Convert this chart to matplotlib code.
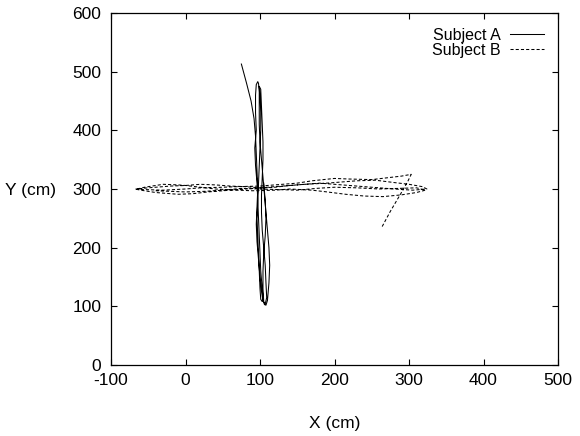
import matplotlib
matplotlib.use("Agg")
import matplotlib.pyplot as plt

plt.rcParams['font.family'] = ['Liberation Sans', 'DejaVu Sans']
plt.rcParams['axes.unicode_minus'] = False

# Subject A (solid): vertical walk around x ~ 100
subject_a_x = [75, 82, 88, 92, 94, 95, 96, 97, 96, 95, 96, 98, 100, 102, 104, 106, 108,
               110, 112, 113, 112, 110, 108, 106, 104, 102, 100, 99, 99, 99, 98, 97, 95,
               94, 94, 95, 93, 94, 96, 97, 98, 99, 100, 101, 103, 104, 103,
               101, 100, 99, 98, 97, 96, 97, 98, 99, 100, 101, 101, 100, 99,
               101, 102, 103, 104, 104, 103, 102, 102, 103, 105, 107, 108, 109, 107,
               105, 104, 104, 105, 107, 108, 107, 105]
subject_a_y = [513, 480, 450, 420, 390, 360, 330, 300, 270, 240, 210, 180, 150, 125, 110, 103, 102,
               110, 140, 170, 200, 230, 260, 290, 320, 350, 380, 410, 440, 465, 480, 483, 478,
               460, 430, 400, 370, 340, 310, 280, 250, 220, 190, 160, 130, 115, 108,
               112, 130, 160, 190, 220, 250, 280, 310, 340, 370, 400, 430, 460, 475,
               470, 440, 410, 380, 350, 320, 290, 260, 230, 200, 170, 140, 115, 104,
               108, 130, 160, 190, 220, 250, 280, 310]

# Subject B (dashed): horizontal walk around y ~ 300
subject_b_x = [264, 275, 288, 298, 303, 290, 270, 250, 220, 200, 170, 150, 120, 100, 70, 50, 20, 0, -30, -55, -68,
               -60, -40, -10, 10, 30, 60, 80, 110, 130, 160, 180, 210, 230, 260, 280, 305, 324,
               318, 300, 280, 255, 230, 210, 190, 160, 140, 120, 100, 80, 60, 40, 20, 0, -20, -40, -50, -65,
               -55, -40, -30, -10, 0, 20, 40, 70, 90, 120, 140, 170, 190, 215, 240, 265, 290, 310, 322,
               310, 285, 260, 230, 200, 175, 150, 125, 100, 75, 50, 25, 0, -20, -40]
subject_b_y = [236, 262, 290, 312, 325, 322, 319, 316, 317, 318, 314, 310, 307, 305, 304, 303, 302, 300, 298, 299, 300,
               298, 294, 291, 292, 295, 298, 300, 303, 305, 308, 310, 307, 305, 302, 300, 298, 300,
               304, 308, 311, 315, 314, 312, 310, 308, 306, 303, 302, 304, 305, 307, 308, 306, 305, 303, 302, 300,
               303, 306, 308, 307, 306, 303, 300, 298, 297, 298, 300, 298, 295, 291, 288, 287, 290, 294, 298,
               302, 301, 300, 302, 303, 301, 298, 299, 300, 301, 298, 296, 295, 296, 297]

fig = plt.figure(figsize=(5.8, 4.36), dpi=100)
ax = fig.add_axes([111/580, 1 - 365/436, 447/580, 352/436])

ax.plot(subject_a_x, subject_a_y, color='black', lw=0.75, ls='-', label='Subject A')
ax.plot(subject_b_x, subject_b_y, color='black', lw=0.75, ls=(0, (3, 2)), label='Subject B')

ax.set_xlim(-100, 500)
ax.set_ylim(0, 600)
ax.set_xticks([-100, 0, 100, 200, 300, 400, 500])
ax.set_yticks([0, 100, 200, 300, 400, 500, 600])
ax.tick_params(direction='in', length=4, width=0.8, top=True, right=True, labelsize=12.5)
ax.tick_params(axis='x', pad=6)
ax.tick_params(axis='y', pad=7)
for s in ax.spines.values():
    s.set_linewidth(0.9)

ax.set_xlabel('X (cm)', fontsize=12.5)
ax.xaxis.set_label_coords(0.5, -0.145)
ax.set_ylabel('Y (cm)', fontsize=12.5, rotation=0, va='center', ha='center')
ax.yaxis.set_label_coords(-0.181, 0.497)

ax.legend(loc='upper right', frameon=False, markerfirst=False, fontsize=11.5,
          handlelength=2.1, labelspacing=0.0, borderaxespad=0.3,
          bbox_to_anchor=(0.993, 0.99), handletextpad=0.6)

fig.savefig('out.png', dpi=100)
